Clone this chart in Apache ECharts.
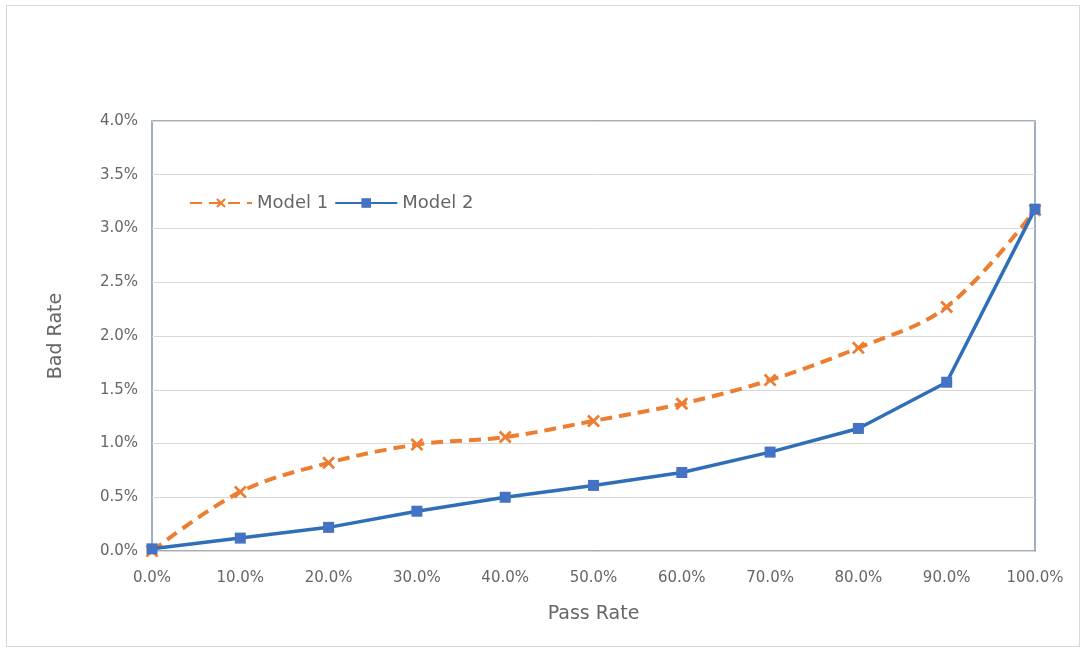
<!DOCTYPE html>
<html>
<head>
<meta charset="utf-8">
<script src="https://cdn.jsdelivr.net/npm/echarts@6/dist/echarts.min.js"></script>
<style>
  html, body { margin: 0; padding: 0; background: #ffffff; }
  #frame { position: absolute; left: 6px; top: 5px; width: 1074px; height: 642px; border: 1px solid #d9d9d9; box-sizing: border-box; }
  #chart { position: absolute; left: 0; top: 0; width: 1087px; height: 653px; }
</style>
</head>
<body>
<div id="frame"></div>
<div id="chart"></div>
<script>
// Pass rate (x) and bad rate (y) for two scoring models
const passRate = [0, 0.1, 0.2, 0.3, 0.4, 0.5, 0.6, 0.7, 0.8, 0.9, 1.0];
const model1 = [0.0000, 0.0055, 0.0082, 0.0099, 0.0106, 0.0121, 0.0137, 0.0159, 0.0189, 0.0227, 0.0317];
const model2 = [0.0002, 0.0012, 0.0022, 0.0037, 0.0050, 0.0061, 0.0073, 0.0092, 0.0114, 0.0157, 0.0318];
const seriesNames = ['Model 1', 'Model 2'];

const pct = v => (v * 100).toFixed(1) + '%';
const pairs = ys => passRate.map((x, i) => [x, ys[i]]);

const crossSymbol = 'path://M0,1.5L1.5,0L5,3.5L8.5,0L10,1.5L6.5,5L10,8.5L8.5,10L5,6.5L1.5,10L0,8.5L3.5,5Z';
const labelFont = '"DejaVu Sans", "Noto Sans", sans-serif';
const textColor = '#666666';

const chart = echarts.init(document.getElementById('chart'));
chart.setOption({
  animation: false,
  grid: {
    left: 152, right: 52, top: 121, bottom: 102,
    show: true, borderColor: '#7f95ab', borderWidth: 1.5
  },
  legend: {
    left: 184, top: 189,
    itemGap: 6, itemWidth: 62, itemHeight: 12,
    textStyle: { color: textColor, fontSize: 18, fontFamily: labelFont },
    data: seriesNames
  },
  xAxis: {
    type: 'value', min: 0, max: 1, interval: 0.1,
    name: 'Pass Rate', nameLocation: 'middle', nameGap: 54,
    nameTextStyle: { color: textColor, fontSize: 19, fontFamily: labelFont },
    axisLine: { show: false }, axisTick: { show: false },
    splitLine: { show: false },
    axisLabel: { formatter: pct, color: textColor, fontSize: 15, margin: 20, fontFamily: labelFont }
  },
  yAxis: {
    type: 'value', min: 0, max: 0.04, interval: 0.005,
    name: 'Bad Rate', nameLocation: 'middle', nameGap: 86,
    nameTextStyle: { color: textColor, fontSize: 19, fontFamily: labelFont },
    axisLine: { show: false }, axisTick: { show: false },
    splitLine: { lineStyle: { color: '#d9d9d9', width: 1 } },
    axisLabel: { formatter: pct, color: textColor, fontSize: 15, margin: 14, fontFamily: labelFont }
  },
  series: [
    {
      name: seriesNames[0], type: 'line', data: pairs(model1),
      smooth: 0.35,
      symbol: crossSymbol, symbolSize: 13,
      lineStyle: { color: '#ed7d31', width: 4, type: [12, 7] },
      itemStyle: { color: '#ed7d31' },
      z: 2
    },
    {
      name: seriesNames[1], type: 'line', data: pairs(model2),
      smooth: false,
      symbol: 'rect', symbolSize: 11,
      lineStyle: { color: '#2e6fb7', width: 3.5 },
      itemStyle: { color: '#4472c4' },
      z: 3
    }
  ]
});
</script>
</body>
</html>
